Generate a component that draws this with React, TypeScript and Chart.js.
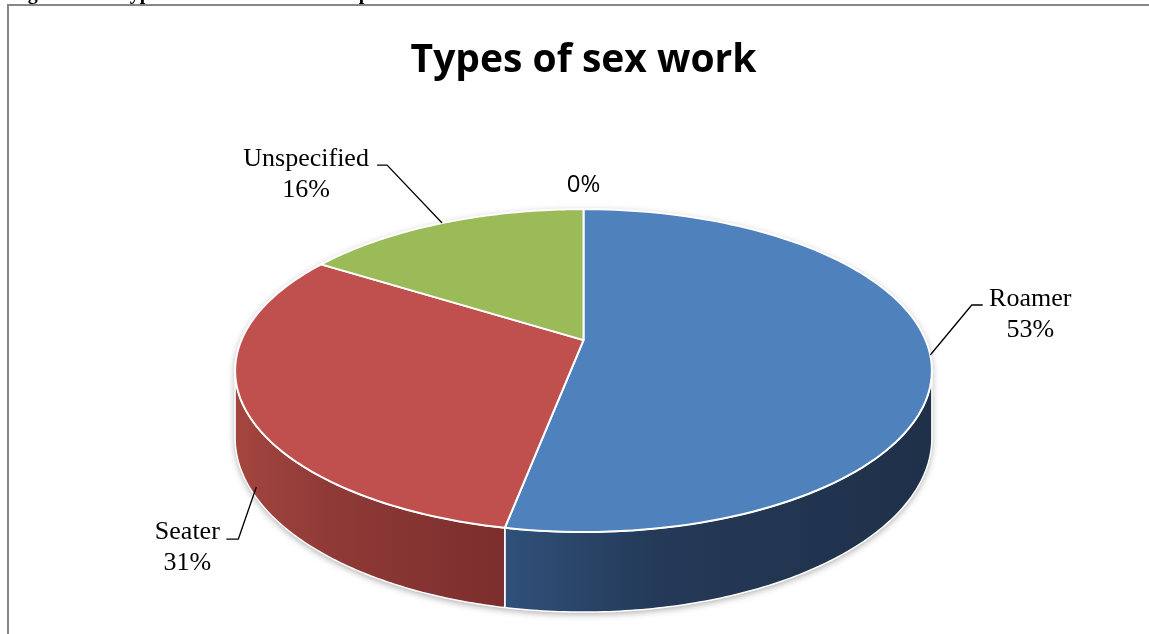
import React, { useEffect, useRef } from 'react';
import { Chart, registerables } from 'chart.js';

Chart.register(...registerables);

// ---- data ----
const categories = ['Roamer', 'Seater', 'Unspecified', ''];
const values = [53, 31, 16, 0];
const titleText = 'Types of sex work';
const captionText = 'Figure 4.10: Types of sex work and their prevalence';

// ---- style ----
const topColors = ['#4F81BD', '#C0504D', '#9BBB59', '#8064A2'];
const wallLight = ['#30507A', '#A4453F', '#7A9444', '#5E4A7A'];
const wallMid = ['#243A58', '#8F3A37', '#6A813B', '#52406B'];
const wallDark = ['#1F3049', '#7B2E2D', '#5B6F33', '#46375C'];

// projection (relative to the library's pie radius)
const KX = 1.369;
const KY = 0.623;
const KD = 0.26;
const PERSP = 0.1888;

// label placement relative to each slice's anchor on the rim
const labelLayout = [
  { shift: 0, depth: 0, tx: 100, ty: -49, ex: 41.5, ey: -50, lx: 52.5, leader: true, sans: false },
  { shift: -6.6, depth: 0.85, tx: -69, ty: 52, ex: -18, ey: 52, lx: -30, leader: true, sans: false },
  { shift: 0, depth: 0, tx: -136, ty: -57, ex: -55, ey: -58, lx: -65, leader: true, sans: false },
  { shift: 0, depth: 0, tx: 0, ty: -17, ex: 0, ey: 0, lx: 0, leader: false, sans: true },
];

function makeGeo(cx: number, cy: number, R: number) {
  const A = R * KX, B = R * KY, D = R * KD, C = PERSP;
  const proj = (t: number, d: number, r = 1): [number, number] => {
    const X = r * Math.sin(t);
    const Z = r * Math.cos(t);
    const w = 1 + C * Z;
    return [cx + (A * X) / w, cy - (B * Z) / w + (D * d) / w];
  };
  const ts = Math.acos(-C);
  const te = 2 * Math.PI - ts;
  return { proj, ts, te, cx, cy };
}

const pie3d = {
  id: 'pie3d',
  beforeDatasetsDraw(chart: any) {
    const ctx: CanvasRenderingContext2D = chart.ctx;
    const arcs = chart.getDatasetMeta(0).data;
    if (!arcs.length) return false;
    const a0 = arcs[0];
    const g = makeGeo(a0.x, a0.y, a0.outerRadius);
    const N = 120;

    // shadow silhouette
    ctx.save();
    ctx.beginPath();
    for (let k = 0; k <= N; k++) {
      const t = g.te + ((2 * Math.PI + g.ts - g.te) * k) / N;
      const p = g.proj(t, 0);
      k === 0 ? ctx.moveTo(p[0], p[1]) : ctx.lineTo(p[0], p[1]);
    }
    for (let k = 0; k <= N; k++) {
      const t = g.ts + ((g.te - g.ts) * k) / N;
      const p = g.proj(t, 1);
      ctx.lineTo(p[0], p[1]);
    }
    ctx.closePath();
    ctx.shadowColor = 'rgba(0,0,0,0.35)';
    ctx.shadowBlur = 7;
    ctx.shadowOffsetY = 2;
    ctx.fillStyle = '#ffffff';
    ctx.fill();
    ctx.restore();

    // walls
    arcs.forEach((arc: any, i: number) => {
      if (!values[i]) return;
      const t0 = arc.startAngle + Math.PI / 2;
      const t1 = arc.endAngle + Math.PI / 2;
      const lo = Math.max(t0, g.ts);
      const hi = Math.min(t1, g.te);
      if (hi <= lo) return;
      ctx.save();
      ctx.beginPath();
      let minX = Infinity, maxX = -Infinity;
      for (let k = 0; k <= N; k++) {
        const t = lo + ((hi - lo) * k) / N;
        const p = g.proj(t, 0);
        minX = Math.min(minX, p[0]);
        maxX = Math.max(maxX, p[0]);
        k === 0 ? ctx.moveTo(p[0], p[1]) : ctx.lineTo(p[0], p[1]);
      }
      for (let k = N; k >= 0; k--) {
        const t = lo + ((hi - lo) * k) / N;
        const p = g.proj(t, 1);
        ctx.lineTo(p[0], p[1]);
      }
      ctx.closePath();
      const grad = ctx.createLinearGradient(minX, 0, maxX, 0);
      grad.addColorStop(0, wallLight[i]);
      grad.addColorStop(0.35, wallMid[i]);
      grad.addColorStop(1, wallDark[i]);
      ctx.fillStyle = grad;
      ctx.fill();
      ctx.strokeStyle = '#ffffff';
      ctx.lineWidth = 1.5;
      ctx.lineJoin = 'round';
      ctx.stroke();
      ctx.restore();
    });

    // top faces
    arcs.forEach((arc: any, i: number) => {
      if (!values[i]) return;
      const t0 = arc.startAngle + Math.PI / 2;
      const t1 = arc.endAngle + Math.PI / 2;
      ctx.save();
      ctx.beginPath();
      const c = g.proj(0, 0, 0);
      ctx.moveTo(c[0], c[1]);
      for (let k = 0; k <= N; k++) {
        const t = t0 + ((t1 - t0) * k) / N;
        const p = g.proj(t, 0);
        ctx.lineTo(p[0], p[1]);
      }
      ctx.closePath();
      ctx.fillStyle = topColors[i];
      ctx.fill();
      ctx.strokeStyle = '#ffffff';
      ctx.lineWidth = 2;
      ctx.lineJoin = 'round';
      ctx.stroke();
      ctx.restore();
    });
    return false;
  },
  afterDraw(chart: any) {
    const ctx: CanvasRenderingContext2D = chart.ctx;
    const arcs = chart.getDatasetMeta(0).data;
    if (!arcs.length) return;
    const a0 = arcs[0];
    const g = makeGeo(a0.x, a0.y, a0.outerRadius);
    const total = values.reduce((s, v) => s + v, 0);

    ctx.save();
    arcs.forEach((arc: any, i: number) => {
      const L = labelLayout[i];
      const mid = (arc.startAngle + arc.endAngle) / 2 + Math.PI / 2 + (L.shift * Math.PI) / 180;
      const [ax, ay] = g.proj(mid, L.depth);
      const pct = Math.round((values[i] / total) * 100) + '%';
      const lines = categories[i] ? [categories[i], pct] : [pct];
      if (L.leader) {
        ctx.beginPath();
        ctx.moveTo(ax + L.lx, ay + L.ey);
        ctx.lineTo(ax + L.ex, ay + L.ey);
        ctx.lineTo(ax, ay);
        ctx.strokeStyle = '#000000';
        ctx.lineWidth = 1.3;
        ctx.stroke();
      }
      ctx.fillStyle = '#000000';
      ctx.textAlign = 'center';
      ctx.textBaseline = 'alphabetic';
      ctx.font = L.sans ? '24px "Open Sans"' : '26px "Liberation Serif"';
      lines.forEach((s, j) => {
        ctx.fillText(s, ax + L.tx, ay + L.ty + j * 31);
      });
    });

    // document caption (cut off by the page top) and chart frame
    ctx.font = 'bold 20px "Liberation Serif"';
    ctx.textAlign = 'left';
    ctx.fillStyle = '#000000';
    ctx.fillText(captionText, 10, -1);
    ctx.beginPath();
    ctx.moveTo(8, 700);
    ctx.lineTo(8, 5);
    ctx.lineTo(1200, 5);
    ctx.strokeStyle = '#878787';
    ctx.lineWidth = 2;
    ctx.stroke();
    ctx.restore();
  },
};

export default function App() {
  const ref = useRef<HTMLCanvasElement>(null);
  useEffect(() => {
    if (!ref.current) return;
    const chart = new Chart(ref.current, {
      type: 'pie',
      data: {
        labels: categories,
        datasets: [{ data: values, backgroundColor: topColors, borderWidth: 0 }],
      },
      options: {
        animation: false,
        responsive: false,
        layout: { padding: { left: 18, top: 0, right: 0, bottom: 44 } },
        plugins: {
          legend: { display: false },
          tooltip: { enabled: false },
          title: {
            display: true,
            text: titleText,
            color: '#000000',
            font: { family: "'Open Sans'", size: 39, weight: 'bold', lineHeight: 1.2 },
            padding: { top: 37, bottom: 6.4 },
          },
        },
      },
      plugins: [pie3d],
    } as any);
    return () => chart.destroy();
  }, []);
  return (
    <canvas
      ref={ref}
      width={1149}
      height={634}
      style={{ position: 'fixed', left: 0, top: 0, width: 1149, height: 634, display: 'block' }}
    />
  );
}
